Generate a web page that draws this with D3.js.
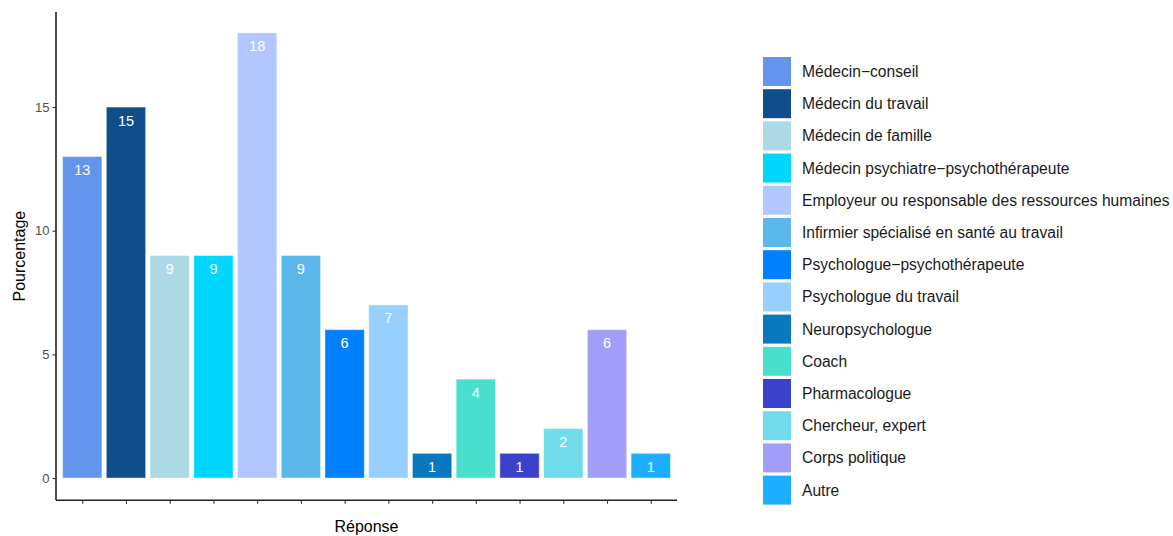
<!DOCTYPE html>
<html>
<head>
<meta charset="utf-8">
<script src="https://cdn.jsdelivr.net/npm/d3@7"></script>
<style>
  html, body { margin: 0; padding: 0; background: #fff; }
  svg { display: block; font-family: "Liberation Sans", Arial, sans-serif; }
</style>
</head>
<body>
<svg id="chart" width="1173" height="536"></svg>
<script>
const categories = [
  "Médecin\u2212conseil",
  "Médecin du travail",
  "Médecin de famille",
  "Médecin psychiatre\u2212psychothérapeute",
  "Employeur ou responsable des ressources humaines",
  "Infirmier spécialisé en santé au travail",
  "Psychologue\u2212psychothérapeute",
  "Psychologue du travail",
  "Neuropsychologue",
  "Coach",
  "Pharmacologue",
  "Chercheur, expert",
  "Corps politique",
  "Autre"
];
const values = [13, 15, 9, 9, 18, 9, 6, 7, 1, 4, 1, 2, 6, 1];
const colors = [
  "#6495ED", "#104E8B", "#ADD8E6", "#00D7FF", "#B2C6FF", "#5CB8EB", "#0080FF",
  "#97D0FF", "#0A78BE", "#48E0CC", "#3A42CC", "#70DCEB", "#A29EFA", "#1EAEFF"
];
const yTicks = [0, 5, 10, 15];

const svg = d3.select("#chart");

const panelLeft = 56, panelRight = 677;
const panelTop = 12, panelBottom = 500.3;

const n = categories.length;
const x = d3.scaleLinear()
  .domain([0.4, n + 0.6])
  .range([panelLeft, panelRight]);
const yMax = d3.max(values);
const y = d3.scaleLinear()
  .domain([-0.05 * yMax, yMax * 1.05])
  .range([panelBottom, 10.6]);

const color = d3.scaleOrdinal().domain(categories).range(colors);

const barW = 0.9;
const g = svg.append("g");

g.selectAll("rect.bar")
  .data(values)
  .enter().append("rect")
  .attr("class", "bar")
  .attr("x", (d, i) => x(i + 1 - barW / 2))
  .attr("width", (d, i) => x(i + 1 + barW / 2) - x(i + 1 - barW / 2))
  .attr("y", d => y(d))
  .attr("height", d => y(0) - y(d))
  .attr("fill", (d, i) => color(categories[i]))
  .attr("stroke", "#ffffff")
  .attr("stroke-opacity", 0.45)
  .attr("stroke-width", 1);

g.selectAll("text.val")
  .data(values)
  .enter().append("text")
  .attr("class", "val")
  .attr("x", (d, i) => x(i + 1))
  .attr("y", d => y(d) + 18.5)
  .attr("text-anchor", "middle")
  .attr("fill", "#ffffff")
  .attr("font-size", "14.5px")
  .text(d => d);

const yAxis = d3.axisLeft(y).tickValues(yTicks).tickSize(3.5).tickPadding(3);
const yg = svg.append("g").attr("transform", `translate(${panelLeft},0)`).call(yAxis);
yg.select(".domain").attr("d", `M0,${panelTop}V${panelBottom}`).attr("stroke", "#222").attr("stroke-width", 1.6);
yg.selectAll(".tick line").attr("stroke", "#333").attr("stroke-width", 1.1);
yg.selectAll(".tick text").attr("fill", "#4d4d4d").attr("font-size", "13px")
  .attr("font-family", "Liberation Sans, Arial, sans-serif");

const xAxis = d3.axisBottom(x).tickValues(d3.range(1, n + 1)).tickSize(3.5).tickFormat("");
const xg = svg.append("g").attr("transform", `translate(0,${panelBottom})`).call(xAxis);
xg.select(".domain").attr("d", `M${panelLeft},0H${panelRight}`).attr("stroke", "#222").attr("stroke-width", 1.6);
xg.selectAll(".tick line").attr("stroke", "#333").attr("stroke-width", 1.1);

svg.append("text")
  .attr("x", (panelLeft + panelRight) / 2)
  .attr("y", 532)
  .attr("text-anchor", "middle")
  .attr("font-size", "16px")
  .attr("fill", "#000")
  .text("Réponse");

svg.append("text")
  .attr("transform", `translate(25,${(panelTop + panelBottom) / 2}) rotate(-90)`)
  .attr("text-anchor", "middle")
  .attr("font-size", "16px")
  .attr("fill", "#000")
  .text("Pourcentage");

const legendX = 763, legendY0 = 57, pitch = 32.2, keyW = 28, keyH = 29;
const lg = svg.append("g");
const items = lg.selectAll("g.item")
  .data(categories)
  .enter().append("g")
  .attr("class", "item")
  .attr("transform", (d, i) => `translate(${legendX},${legendY0 + i * pitch})`);
items.append("rect")
  .attr("width", keyW)
  .attr("height", keyH)
  .attr("fill", d => color(d));
items.append("text")
  .attr("x", 39)
  .attr("y", keyH / 2)
  .attr("dy", "0.35em")
  .attr("font-size", "15.6px")
  .attr("fill", "#1a1a1a")
  .text(d => d);
</script>
</body>
</html>
